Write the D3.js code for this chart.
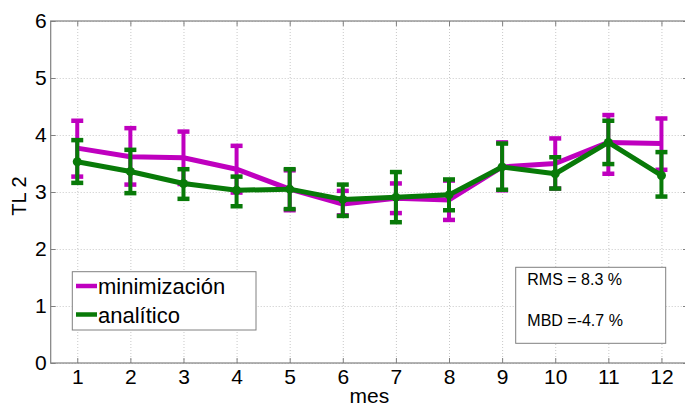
<!DOCTYPE html>
<html>
<head>
<meta charset="utf-8">
<script src="https://cdn.jsdelivr.net/npm/d3@7"></script>
<style>
  body { margin: 0; background: #fff; }
  svg { display: block; font-family: 'Liberation Sans', Arial, sans-serif; }
  .grid line { stroke: #c8c8c8; stroke-dasharray: 1 2; }
  .grid .domain { display: none; }
  .axis .domain { display: none; }
  .axis line { stroke: #808080; }
  .axis text { font-size: 21px; fill: #000; font-family: 'Liberation Sans', Arial, sans-serif; }
</style>
</head>
<body>
<div class="chart"></div>
<script>
// Data
const months = [1, 2, 3, 4, 5, 6, 7, 8, 9, 10, 11, 12]
const yTicks = [0, 1, 2, 3, 4, 5, 6]

const minVal = [3.77, 3.62, 3.60, 3.40, 3.05, 2.79, 2.89, 2.86, 3.44, 3.50, 3.87, 3.85]
const minHi  = [4.25, 4.12, 4.06, 3.81, 3.38, 3.02, 3.15, 3.20, 3.87, 3.94, 4.35, 4.29]
const minLo  = [3.27, 3.13, 3.14, 2.99, 2.68, 2.59, 2.63, 2.51, 3.03, 3.06, 3.32, 3.39]

const anaVal = [3.53, 3.36, 3.15, 3.03, 3.05, 2.87, 2.91, 2.95, 3.44, 3.32, 3.87, 3.29]
const anaHi  = [3.91, 3.74, 3.40, 3.27, 3.40, 3.13, 3.35, 3.22, 3.85, 3.61, 4.25, 3.70]
const anaLo  = [3.16, 2.98, 2.88, 2.75, 2.70, 2.58, 2.47, 2.68, 3.04, 3.06, 3.49, 2.92]

const seriesNames = ['minimización', 'analítico']
const statLines = ['RMS = 8.3 %', 'MBD =-4.7 %']

// Dimensions
const dims = { width: 685, height: 407, left: 50.7, right: 688, top: 21, bottom: 363 }

const xScale = d3.scaleLinear().domain([0.5, 12.5]).range([dims.left, dims.right])
const yScale = d3.scaleLinear().domain([0, 6]).range([dims.bottom, dims.top])

const svg = d3.select('.chart')
              .append('svg')
              .attr('width', dims.width)
              .attr('height', dims.height)

// grid
svg.append('g')
   .classed('grid', true)
   .attr('transform', `translate(0,${dims.bottom})`)
   .call(d3.axisBottom(xScale).tickValues(months).tickSize(-(dims.bottom - dims.top)).tickFormat(''))
svg.append('g')
   .classed('grid', true)
   .attr('transform', `translate(${dims.left},0)`)
   .call(d3.axisLeft(yScale).tickValues(yTicks).tickSize(-(dims.right - dims.left)).tickFormat(''))

// axes box
svg.append('rect')
   .attr('x', dims.left).attr('y', dims.top)
   .attr('width', dims.right - dims.left).attr('height', dims.bottom - dims.top)
   .attr('fill', 'none').attr('stroke', '#808080').attr('stroke-width', 1.2)

svg.append('g')
   .classed('axis', true)
   .attr('transform', `translate(0,${dims.bottom})`)
   .call(d3.axisBottom(xScale).tickValues(months).tickFormat(d3.format('d'))
           .tickSizeInner(-5).tickSizeOuter(0).tickPadding(6))
svg.append('g')
   .classed('axis', true)
   .attr('transform', `translate(0,${dims.top})`)
   .call(d3.axisTop(xScale).tickValues(months).tickSizeInner(-5).tickSizeOuter(0).tickFormat(''))
svg.append('g')
   .classed('axis', true)
   .attr('transform', `translate(${dims.left},0)`)
   .call(d3.axisLeft(yScale).tickValues(yTicks).tickFormat(d3.format('d'))
           .tickSizeInner(-5).tickSizeOuter(0).tickPadding(4))
svg.append('g')
   .classed('axis', true)
   .attr('transform', `translate(${dims.right},0)`)
   .call(d3.axisRight(yScale).tickValues(yTicks).tickSizeInner(-5).tickSizeOuter(0).tickFormat(''))

// labels
svg.append('text')
   .text('mes')
   .attr('x', (xScale(1) + xScale(12)) / 2)
   .attr('y', 403)
   .attr('text-anchor', 'middle')
   .style('font-size', '21px')
svg.append('text')
   .text('TL 2')
   .attr('text-anchor', 'middle')
   .attr('transform', `translate(26,196) rotate(-90)`)
   .style('font-size', '20px')

// series
const series = [
  { name: seriesNames[0], color: '#bf00bf', val: minVal, hi: minHi, lo: minLo, marker: false },
  { name: seriesNames[1], color: '#087a08', val: anaVal, hi: anaHi, lo: anaLo, marker: true }
]

const lineGen = d3.line()
                  .x((d, i) => xScale(months[i]))
                  .y(d => yScale(d))

series.forEach(s => {
  const g = svg.append('g')
  const capW = 6
  months.forEach((m, i) => {
    const x = xScale(m)
    g.append('line')
     .attr('x1', x).attr('x2', x)
     .attr('y1', yScale(s.lo[i])).attr('y2', yScale(s.hi[i]))
     .attr('stroke', s.color).attr('stroke-width', 4)
    ;[s.lo[i], s.hi[i]].forEach(v => {
      g.append('line')
       .attr('x1', x - capW).attr('x2', x + capW)
       .attr('y1', yScale(v)).attr('y2', yScale(v))
       .attr('stroke', s.color).attr('stroke-width', 4.5)
    })
  })
  g.append('path')
   .datum(s.val)
   .attr('d', lineGen)
   .attr('fill', 'none')
   .attr('stroke', s.color)
   .attr('stroke-width', 5)
   .attr('stroke-linejoin', 'round')
  if (s.marker) {
    g.selectAll('circle')
     .data(s.val)
     .join('circle')
     .attr('cx', (d, i) => xScale(months[i]))
     .attr('cy', d => yScale(d))
     .attr('r', 4.5)
     .attr('fill', s.color)
  }
})

// legend
const leg = svg.append('g')
leg.append('rect')
   .attr('x', 72.3).attr('y', 271.7).attr('width', 183.7).attr('height', 58.3)
   .attr('fill', '#fff').attr('stroke', '#808080').attr('stroke-width', 1)
series.forEach((s, i) => {
  const y = 286 + i * 28.5
  leg.append('line')
     .attr('x1', 76).attr('x2', 97).attr('y1', y).attr('y2', y)
     .attr('stroke', s.color).attr('stroke-width', 4.5)
  leg.append('text')
     .text(s.name)
     .attr('x', 98).attr('y', y + 8)
     .style('font-size', '22px')
})

// stats box
const stat = svg.append('g')
stat.append('rect')
    .attr('x', 515.7).attr('y', 267.3).attr('width', 150).attr('height', 76)
    .attr('fill', '#fff').attr('stroke', '#808080').attr('stroke-width', 1)
statLines.forEach((t, i) => {
  stat.append('text')
      .text(t)
      .attr('x', 527.3).attr('y', 285 + i * 41)
      .style('font-size', '16px')
})
</script>
</body>
</html>
